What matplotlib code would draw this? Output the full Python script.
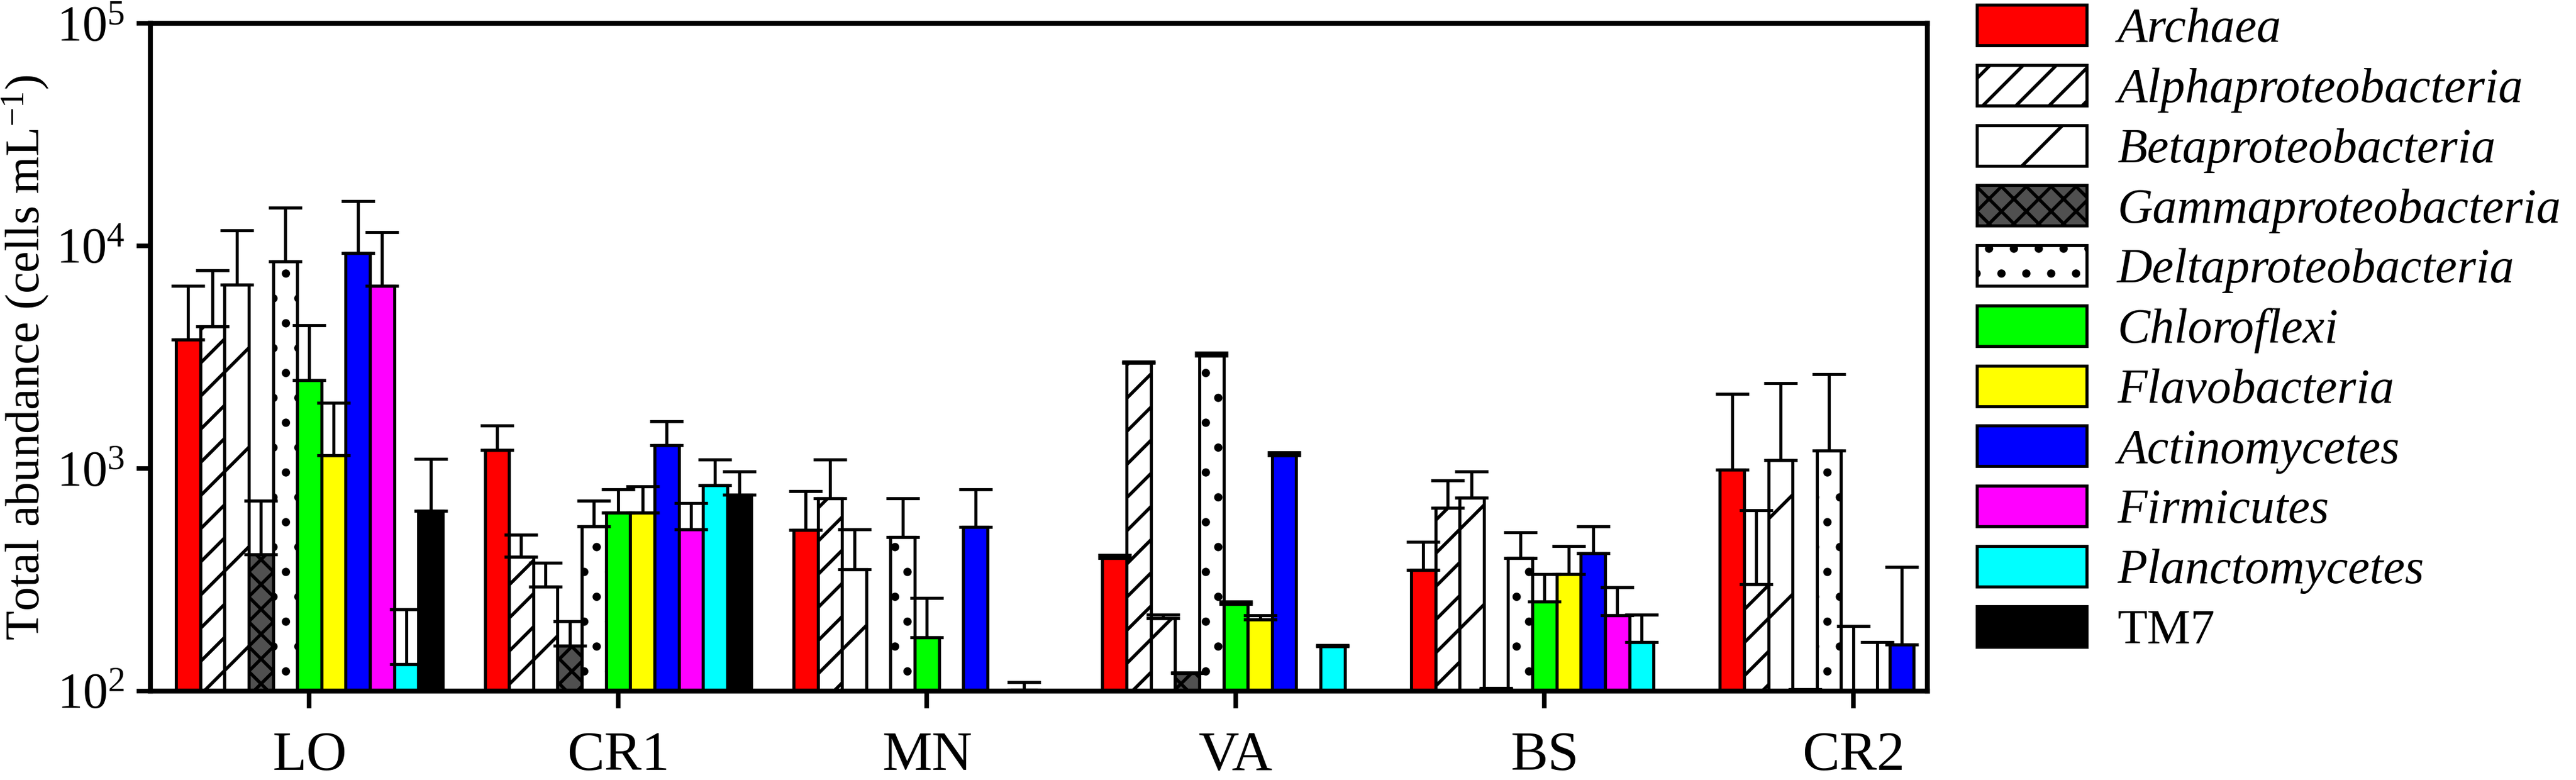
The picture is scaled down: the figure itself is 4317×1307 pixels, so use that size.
import numpy as np
import matplotlib
matplotlib.use("Agg")
import matplotlib.pyplot as plt
from matplotlib.ticker import NullLocator

plt.rcParams['font.family'] = ['Liberation Serif', 'DejaVu Serif']
plt.rcParams['mathtext.fontset'] = 'custom'
plt.rcParams['mathtext.rm'] = 'Liberation Serif'
plt.rcParams['mathtext.it'] = 'Liberation Serif:italic'
plt.rcParams['hatch.linewidth'] = 0.8

nan = np.nan

sites = ['LO', 'CR1', 'MN', 'VA', 'BS', 'CR2']
taxa = ['Archaea', 'Alphaproteobacteria', 'Betaproteobacteria', 'Gammaproteobacteria',
        'Deltaproteobacteria', 'Chloroflexi', 'Flavobacteria', 'Actinomycetes',
        'Firmicutes', 'Planctomycetes', 'TM7']

# mean abundance (cells mL-1), one value per site
archaea = [3800, 1210, 530, 395, 351, 990]
alpha = [4350, 401, 735, 2975, 665, 301]
beta = [6700, 294, 353, 213, 738, 1087]
gamma = [411, 160, nan, 120, 102, 101]
delta = [8540, 551, 492, 3210, 396, 1200]
chloroflexi = [2490, 635, 174, 247, 252, 100.5]
flavo = [1142, 635, nan, 210, 335, 100.5]
actino = [9310, 1270, 546, 1149, 416, 162]
firmicutes = [6620, 533, nan, nan, 219, nan]
plancto = [132, 841, 101, 159, 166, nan]
tm7 = [646, 762, nan, nan, nan, nan]

# top of the error bar (mean + SD)
archaea_top = [6620, 1560, 790, 408, 467, 2160]
alpha_top = [7770, 503, 1097, 3020, 882, 650]
beta_top = [11750, 378, 533, 220, 970, 2420]
gamma_top = [716, 206, nan, 121, 103, 102]
delta_top = [14860, 717, 735, 3310, 515, 2650]
chloroflexi_top = [4390, 805, 262, 252, 335, 196]
flavo_top = [1970, 832, nan, 219, 448, 166]
actino_top = [15930, 1633, 808, 1180, 549, 360]
firmicutes_top = [11530, 701, nan, nan, 293, nan]
plancto_top = [233, 1097, 110, 161, 221, nan]
tm7_top = [1104, 972, nan, nan, nan, nan]

means = [archaea, alpha, beta, gamma, delta, chloroflexi, flavo, actino,
         firmicutes, plancto, tm7]
tops = [archaea_top, alpha_top, beta_top, gamma_top, delta_top, chloroflexi_top,
        flavo_top, actino_top, firmicutes_top, plancto_top, tm7_top]

colors = ['#ff0000', 'white', 'white', '#505050', 'white', '#00ff00', '#ffff00',
          '#0000ff', '#ff00ff', '#00ffff', 'black']
hatches = [None, '///', '/', 'xxxx', '..', None, None, None, None, None, None]

W, H, DPI = 4317, 1307, 500
fig = plt.figure(figsize=(W / DPI, H / DPI), dpi=DPI)
ax = fig.add_axes([252 / W, 1 - 1158 / H, (3230 - 252) / W, (1158 - 39) / H])
ax.set_yscale('log')

x = np.arange(len(sites))
w = 0.0785
handles = []
for i in range(len(taxa)):
    vals = np.array(means[i], dtype=float)
    up = np.array(tops[i], dtype=float) - vals
    pos = x + (i - 5) * w
    b = ax.bar(pos, vals, w, color=colors[i], edgecolor='black', linewidth=0.75,
               hatch=hatches[i], zorder=2)
    ax.errorbar(pos, vals, yerr=[np.zeros_like(vals), up], fmt='none', ecolor='black',
                elinewidth=0.75, capsize=4.1, capthick=0.75, zorder=3)
    handles.append(b)

ax.set_xlim(-0.515, 5.24)
ax.set_ylim(1e2, 1e5)
ax.set_xticks(x, sites)
ax.set_yticks([1e2, 1e3, 1e4, 1e5], [r'$\mathregular{10^{%d}}$' % k for k in range(2, 6)])
ax.yaxis.set_minor_locator(NullLocator())
ax.tick_params(axis='x', length=4.2, width=1.1, pad=5.5, labelsize=13.5, direction='out')
ax.tick_params(axis='y', length=3.3, width=1.1, pad=2.9, labelsize=12.1, direction='out')
for s in ax.spines.values():
    s.set_linewidth(1.2)

ax.set_ylabel(r'Total abundance (cells mL$^{\mathregular{-1}}$)', fontsize=11.6, labelpad=1.2)

leg = fig.legend(handles, taxa, loc='upper left', bbox_to_anchor=(3313 / W, 1 - 8 / H),
                 bbox_transform=fig.transFigure, frameon=False, fontsize=11.8,
                 handlelength=2.25, handleheight=0.9, handletextpad=0.62,
                 labelspacing=0.25, borderpad=0, borderaxespad=0)
for t in leg.get_texts()[:-1]:
    t.set_fontstyle('italic')

fig.savefig('out.png', dpi=DPI)
